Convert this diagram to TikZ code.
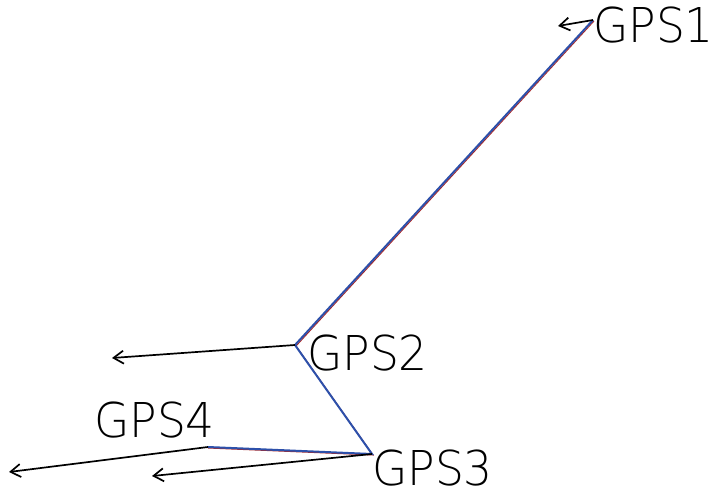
\documentclass[tikz,border=0pt]{standalone}
\usepackage{fontspec}
\setmainfont{DejaVu Sans ExtraLight}
\usetikzlibrary{arrows.meta}
\definecolor{lineblue}{RGB}{45,80,170}
\definecolor{linered}{RGB}{170,40,40}
\tikzset{
  gpslabel/.style={anchor=base west, inner sep=0pt, font=\fontsize{48}{48}\selectfont, xscale=0.95},
  vecarrow/.style={draw=black, line width=1.7pt, -{Straight Barb[length=10pt,width=13pt,line width=1.7pt]}},
  traceline/.style={draw=lineblue, line width=2pt},
  traceunder/.style={draw=linered, line width=1pt}
}
\begin{document}
\begin{tikzpicture}[x=1pt,y=-1pt]
\useasboundingbox (0,0) rectangle (711,492);
\coordinate (p1) at (593,20);
\coordinate (p2) at (295,345);
\coordinate (p3) at (372,454);
\coordinate (p4) at (208,447);
\coordinate (a1) at (558,26);
\coordinate (a2) at (112,358);
\coordinate (a3) at (152,476);
\coordinate (a4) at (9,472);
% red traces underneath
\draw[traceunder] ([shift={(1,1)}]p1) -- ([shift={(1,1)}]p2) -- ([shift={(1,1)}]p3) -- ([shift={(0,1)}]p4);
% blue traces
\draw[traceline] (p1) -- (p2) -- (p3) -- (p4);
% vectors
\draw[vecarrow] (p1) -- (a1);
\draw[vecarrow] (p2) -- (a2);
\draw[vecarrow] (p3) -- (a3);
\draw[vecarrow] (p4) -- (a4);
% labels
\node[gpslabel] (t1) at (593,43) {GPS1};
\node[gpslabel] (t2) at (307,370) {GPS2};
\node[gpslabel] (t3) at (372,485) {GPS3};
\node[gpslabel] (t4) at (94,437) {GPS4};
\end{tikzpicture}
\end{document}
